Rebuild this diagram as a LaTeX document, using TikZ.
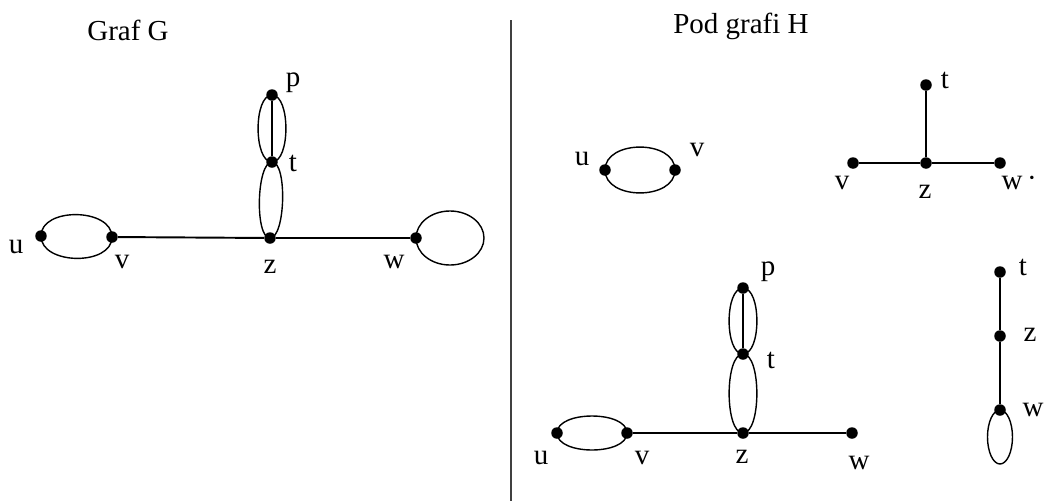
\documentclass[tikz,border=0pt]{standalone}
\usepackage{fontspec}
\setmainfont{Liberation Serif}

\begin{document}
\begin{tikzpicture}[x=0.02cm,y=0.02cm,vertex/.style={circle, fill, inner sep=0pt, minimum size=0.23cm},edge/.style={line width=1.1pt},multi/.style={line width=0.8pt, looseness=#1},lbl/.style={inner sep=0pt, font=\fontsize{16.5}{19}\selectfont},heading/.style={inner sep=0pt, font=\fontsize{16.5}{19}\selectfont}]
\useasboundingbox (0,0) rectangle (1046,-501);
\draw[line width=1.1pt, black!75] (511,-20) -- (511,-501);
% Graf G
\node[heading] (titleG) at (128,-30) {Graf G};
\node[vertex] (Gu) at (41,-236) {}; \node[vertex] (Gv) at (112,-237) {}; \node[vertex] (Gz) at (270,-238) {};
\node[vertex] (Gw) at (416,-238) {}; \node[vertex] (Gt) at (272,-162) {}; \node[vertex] (Gp) at (272,-95) {};
\node[lbl] (lGu) at (16,-247) {u}; \node[lbl] (lGv) at (122,-262) {v}; \node[lbl] (lGz) at (270,-267) {z};
\node[lbl] (lGw) at (394,-262) {w}; \node[lbl] (lGt) at (293,-163) {t}; \node[lbl] (lGp) at (293,-83) {p};
\draw[edge] (Gv) -- (Gz) -- (Gw); \draw[edge] (Gp) -- (Gt);
\draw[multi=1.05] (Gu.center) to[out=90,in=90] (Gv.center) (Gu.center) to[out=-90,in=-90] (Gv.center);
\draw[multi=0.71] (Gp.center) to[out=180,in=180] (Gt.center) (Gp.center) to[out=0,in=0] (Gt.center);
\draw[multi=0.52] (Gt.center) to[out=180,in=180] (Gz.center) (Gt.center) to[out=0,in=0] (Gz.center);
\draw[multi=1] (Gw.center) ++(34,0) ellipse (34 and 27);
% Pod grafi H
\node[heading] (titleH) at (741,-26) {Pod grafi H};
\node[vertex] (Au) at (605,-170) {}; \node[vertex] (Av) at (675,-170) {};
\node[lbl] (lAu) at (582,-159) {u}; \node[lbl] (lAv) at (697,-150) {v};
\draw[multi=1.12] (Au.center) to[out=90,in=90] (Av.center) (Au.center) to[out=-90,in=-90] (Av.center);
\node[vertex] (St) at (926,-85) {}; \node[vertex] (Sz) at (926,-163) {}; \node[vertex] (Sv) at (853,-163) {}; \node[vertex] (Sw) at (1000,-163) {};
\node[lbl] (lSt) at (945,-80) {t}; \node[lbl] (lSv) at (842,-183) {v}; \node[lbl] (lSz) at (925,-192) {z};
\node[lbl] (lSw) at (1012,-183) {w}; \node[lbl] (lSdot) at (1032,-182) {·};
\draw[edge] (Sv) -- (Sz) -- (Sw); \draw[edge] (St) -- (Sz);
\node[vertex] (Bu) at (557,-433) {}; \node[vertex] (Bv) at (627,-433) {}; \node[vertex] (Bz) at (743,-433) {};
\node[vertex] (Bw) at (852,-433) {}; \node[vertex] (Bt) at (743,-354) {}; \node[vertex] (Bp) at (743,-288) {};
\node[lbl] (lBu) at (541,-458) {u}; \node[lbl] (lBv) at (642,-458) {v}; \node[lbl] (lBz) at (742,-457) {z};
\node[lbl] (lBw) at (859,-463) {w}; \node[lbl] (lBt) at (771,-360) {t}; \node[lbl] (lBp) at (768,-272) {p};
\draw[edge] (Bv) -- (Bz) -- (Bw); \draw[edge] (Bp) -- (Bt);
\draw[multi=0.83] (Bu.center) to[out=90,in=90] (Bv.center) (Bu.center) to[out=-90,in=-90] (Bv.center);
\draw[multi=0.72] (Bp.center) to[out=180,in=180] (Bt.center) (Bp.center) to[out=0,in=0] (Bt.center);
\draw[multi=0.6] (Bt.center) to[out=180,in=180] (Bz.center) (Bt.center) to[out=0,in=0] (Bz.center);
\node[vertex] (Ct) at (1000,-272) {}; \node[vertex] (Cz) at (1000,-336) {}; \node[vertex] (Cw) at (1000,-410) {};
\node[lbl] (lCt) at (1023,-267) {t}; \node[lbl] (lCz) at (1030,-335) {z}; \node[lbl] (lCw) at (1033,-410) {w};
\draw[edge] (Ct) -- (Cz) -- (Cw);
\draw[multi=1] (Cw.center) ++(0,-27) ellipse (12.5 and 27);
\end{tikzpicture}
\end{document}
